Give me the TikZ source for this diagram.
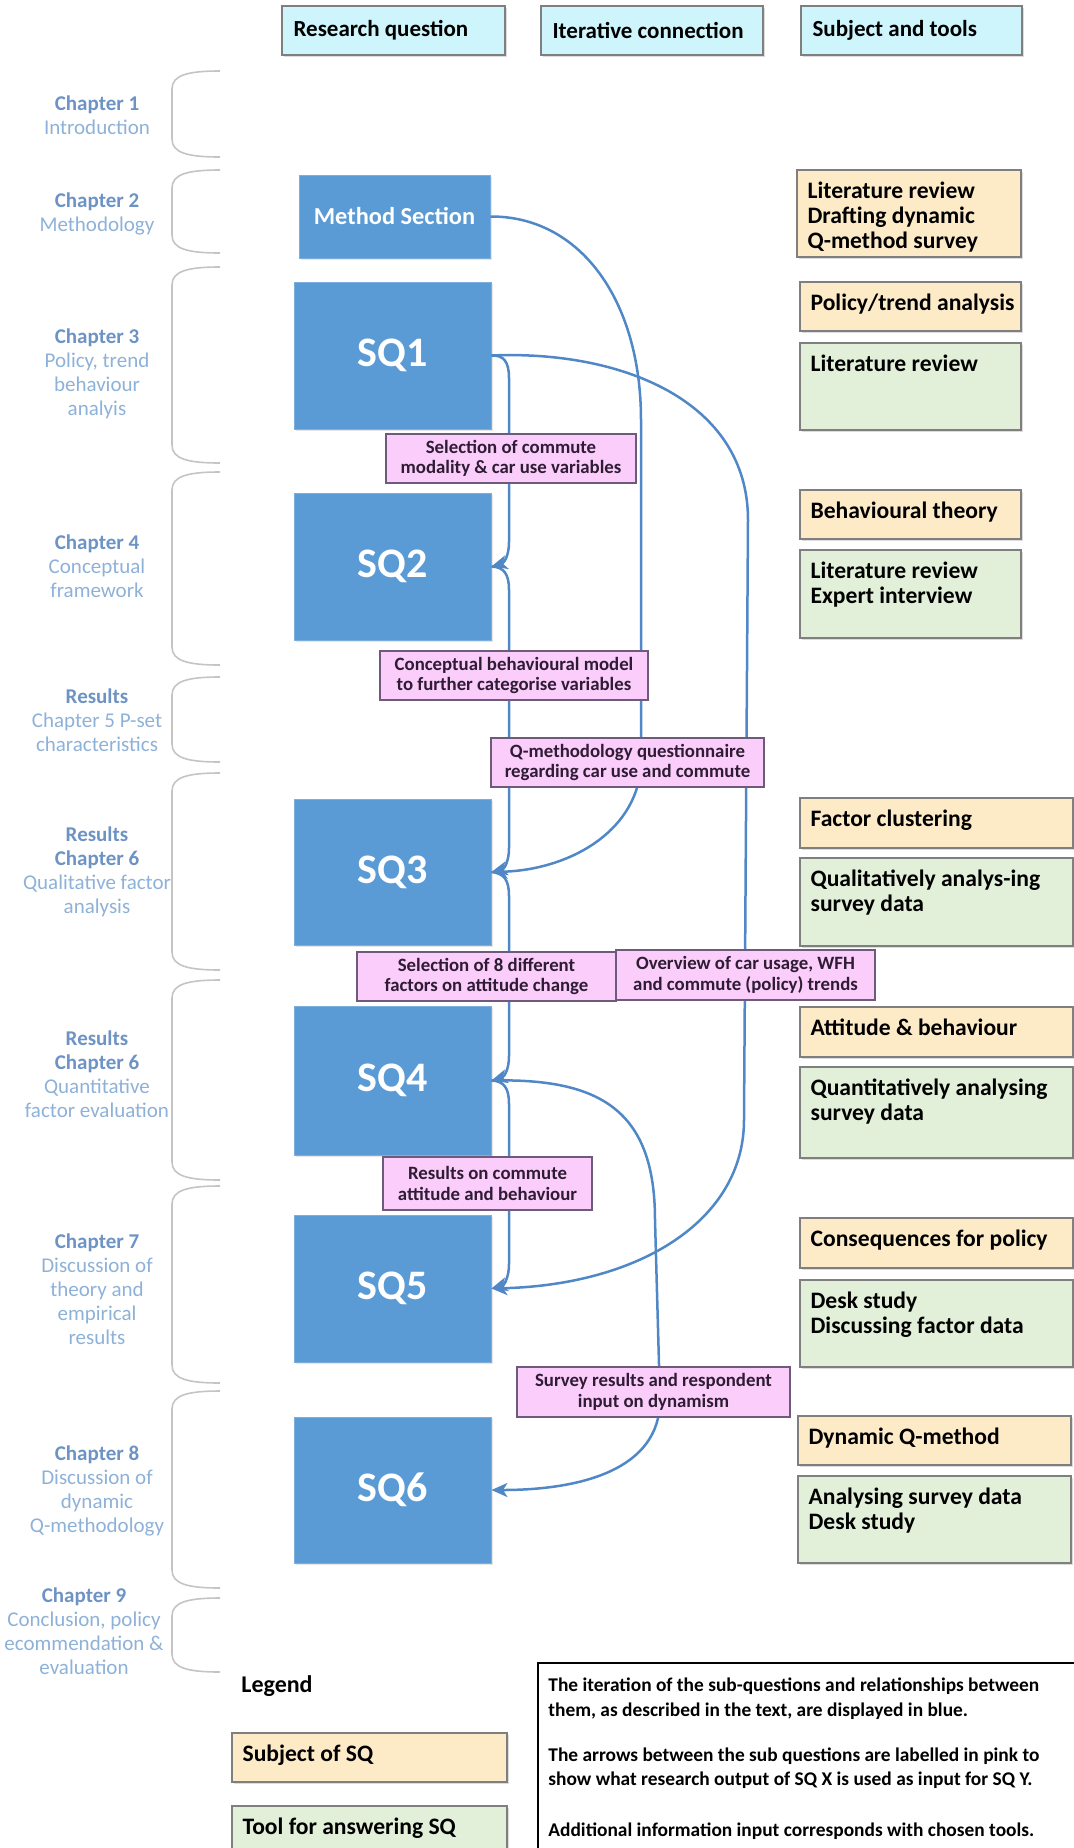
\documentclass[tikz,border=0pt]{standalone}
\usepackage{fontspec}
\setmainfont{Carlito}
\usetikzlibrary{arrows.meta,shadows,fit}

\definecolor{sqblue}{HTML}{5B9BD5}
\definecolor{linkblue}{HTML}{5087C6}
\definecolor{hdrcyan}{HTML}{CDF5FB}
\definecolor{subjtan}{HTML}{FDEBC8}
\definecolor{toolgreen}{HTML}{E2EFD9}
\definecolor{labelpink}{HTML}{FBCDFB}
\definecolor{pinkedge}{HTML}{6E5A7A}
\definecolor{pinkink}{HTML}{2E1C34}
\definecolor{boxedge}{HTML}{7F7F7F}
\definecolor{chapbold}{HTML}{6D93C5}
\definecolor{chaplight}{HTML}{8EB1D8}
\definecolor{bracegray}{HTML}{C4C4C4}

\tikzset{
  outlined/.style={draw=boxedge, line width=0.8pt, inner sep=0pt,
    drop shadow={shadow xshift=0.8pt, shadow yshift=-1.2pt, opacity=0.28}},
  hdrbox/.style={outlined, fill=hdrcyan},
  subjbox/.style={outlined, fill=subjtan},
  toolbox/.style={outlined, fill=toolgreen},
  sqbox/.style={fill=sqblue, draw=sqblue!80!white, line width=0.4pt, inner sep=0pt,
    drop shadow={shadow xshift=0.8pt, shadow yshift=-1.2pt, opacity=0.2}},
  sqtext/.style={font=\fontsize{21}{24}\selectfont\bfseries, text=white, inner sep=0pt},
  pinkbox/.style={draw=pinkedge, fill=labelpink, line width=0.8pt, inner sep=0pt},
  pinktext/.style={font=\fontsize{9.4}{10.2}\selectfont\bfseries, align=center,
    inner sep=0pt, text=pinkink},
  hdrtext/.style={font=\fontsize{11.5}{13}\selectfont\bfseries, anchor=west, inner sep=0pt},
  boxtext/.style={font=\fontsize{11.8}{12.5}\selectfont\bfseries, align=left,
    inner sep=0pt, anchor=north west},
  notetext/.style={font=\fontsize{9.7}{12}\selectfont\bfseries, anchor=west, inner sep=0pt},
  chaplabel/.style={font=\fontsize{10.5}{12}\selectfont, align=center, text=chaplight,
    inner sep=0pt},
  chapbrace/.style={draw=bracegray, line width=0.8pt},
  sqlink/.style={draw=linkblue, line width=1.25pt,
    -{Stealth[length=8pt, width=7pt, inset=2.2pt]}},
}

% rounded bracket on the left, spanning the rows of one chapter
\newcommand{\chapterspan}[2]{%
  \draw[chapbrace] (220,#1) .. controls (188,#1) and (172,{#1+4}) .. (172,{#1+18})
    -- (172,{#2-18}) .. controls (172,{#2-4}) and (188,#2) .. (220,#2);}

% framed box given by its corners, with top-left text
\newcommand{\infobox}[7]{%
  \node[#2, fit={(#3,#4) (#5,#6)}] (#1) {};
  \node[boxtext] (#1-t) at ([xshift=5.5pt,yshift=-6pt]#1.north west) {#7};}

% pink label sitting on a connector
\newcommand{\linklabel}[6]{%
  \node[pinkbox, fit={(#2,#3) (#4,#5)}] (#1) {};
  \node[pinktext] (#1-t) at (#1.center) {#6};}

\begin{document}
\begin{tikzpicture}[x=0.5pt, y=-0.5pt]
\useasboundingbox (0,0) rectangle (1074,1848);
\clip (0,0) rectangle (1074,1848);

% column headers
\node[hdrbox, fit={(282,6) (505,55)}] (hrq) {};
\node[hdrtext] (hrq-t) at ([xshift=6pt]hrq.west) {Research question};
\node[hdrbox, fit={(541,6) (763,55)}] (hic) {};
\node[hdrtext] (hic-t) at ([xshift=6pt]hic.west) {Iterative connection};
\node[hdrbox, fit={(801,6) (1022,55)}] (hst) {};
\node[hdrtext] (hst-t) at ([xshift=6pt]hst.west) {Subject and tools};

% chapter brackets
\chapterspan{71}{157}
\chapterspan{170}{253}
\chapterspan{267}{463}
\chapterspan{472}{665}
\chapterspan{677}{762}
\chapterspan{773}{970}
\chapterspan{980}{1180}
\chapterspan{1186}{1383}
\chapterspan{1391}{1588}
\chapterspan{1598}{1672}

% chapter labels
\node[chaplabel] (c1) at (97,115) {{\color{chapbold}\bfseries Chapter 1}\\Introduction};
\node[chaplabel] (c2) at (97,214) {{\color{chapbold}\bfseries Chapter 2}\\Methodology};
\node[chaplabel] (c3) at (97,374) {{\color{chapbold}\bfseries Chapter 3}\\Policy, trend\\behaviour\\analyis};
\node[chaplabel] (c4) at (97,566) {{\color{chapbold}\bfseries Chapter 4}\\Conceptual\\framework};
\node[chaplabel] (c5) at (97,720) {{\color{chapbold}\bfseries Results}\\Chapter 5 P-set\\characteristics};
\node[chaplabel] (c6a) at (97,872) {{\color{chapbold}\bfseries Results}\\{\color{chapbold}\bfseries Chapter 6}\\Qualitative factor\\analysis};
\node[chaplabel] (c6b) at (97,1074) {{\color{chapbold}\bfseries Results}\\{\color{chapbold}\bfseries Chapter 6}\\Quantitative\\factor evaluation};
\node[chaplabel] (c7) at (97,1289) {{\color{chapbold}\bfseries Chapter 7}\\Discussion of\\theory and\\empirical\\results};
\node[chaplabel] (c8) at (97,1491) {{\color{chapbold}\bfseries Chapter 8}\\Discussion of\\dynamic\\Q-methodology};
\node[chaplabel] (c9) at (84,1631) {{\color{chapbold}\bfseries Chapter 9}\\Conclusion, policy\\ecommendation \&\\evaluation};

% research questions
\node[sqbox, fit={(299,175) (490,258)}] (ms) {};
\node[sqtext, font=\fontsize{12.2}{14}\selectfont\bfseries] (ms-t) at (ms.center) {Method Section};
\node[sqbox, fit={(294,282) (491,429)}] (sq1) {};
\node[sqtext] (sq1-t) at (sq1.center) {SQ1};
\node[sqbox, fit={(294,493) (491,640)}] (sq2) {};
\node[sqtext] (sq2-t) at (sq2.center) {SQ2};
\node[sqbox, fit={(294,799) (491,945)}] (sq3) {};
\node[sqtext] (sq3-t) at (sq3.center) {SQ3};
\node[sqbox, fit={(294,1006) (491,1155)}] (sq4) {};
\node[sqtext] (sq4-t) at (sq4.center) {SQ4};
\node[sqbox, fit={(294,1215) (491,1362)}] (sq5) {};
\node[sqtext] (sq5-t) at (sq5.center) {SQ5};
\node[sqbox, fit={(294,1417) (491,1563)}] (sq6) {};
\node[sqtext] (sq6-t) at (sq6.center) {SQ6};

% subjects and tools
\infobox{s0}{subjbox}{797}{170}{1021}{257}{Literature review\\Drafting dynamic\\Q-method survey}
\infobox{s1}{subjbox}{800}{282}{1021}{331}{Policy/trend analysis}
\infobox{t1}{toolbox}{800}{343}{1021}{430}{Literature review}
\infobox{s2}{subjbox}{800}{490}{1021}{539}{Behavioural theory}
\infobox{t2}{toolbox}{800}{550}{1021}{638}{Literature review\\Expert interview}
\infobox{s3}{subjbox}{800}{798}{1073}{848}{Factor clustering}
\infobox{t3}{toolbox}{800}{858}{1073}{946}{Qualitatively analys-ing\\survey data}
\infobox{s4}{subjbox}{800}{1007}{1073}{1057}{Attitude \& behaviour}
\infobox{t4}{toolbox}{800}{1067}{1073}{1158}{Quantitatively analysing\\survey data}
\infobox{s5}{subjbox}{800}{1218}{1073}{1268}{Consequences for policy}
\infobox{t5}{toolbox}{800}{1280}{1073}{1367}{Desk study\\Discussing factor data}
\infobox{s6}{subjbox}{798}{1416}{1071}{1465}{Dynamic Q-method}
\infobox{t6}{toolbox}{798}{1476}{1071}{1563}{Analysing survey data\\Desk study}

% iterative connections
\draw[sqlink] (sq1.east) .. controls (504,355) and (509,362) .. (509,378)
  -- (509,542) .. controls (509,556) and (504,563) .. (sq2.east);
\draw[sqlink] (sq2.east) .. controls (504,567) and (509,574) .. (509,590)
  -- (509,848) .. controls (509,862) and (504,869) .. (sq3.east);
\draw[sqlink] (sq3.east) .. controls (504,873) and (509,880) .. (509,896)
  -- (509,1056) .. controls (509,1070) and (504,1077) .. (sq4.east);
\draw[sqlink] (sq4.east) .. controls (504,1081) and (509,1088) .. (509,1104)
  -- (509,1264) .. controls (509,1278) and (504,1285) .. (sq5.east);
\draw[sqlink] (ms.east) .. controls (580,216) and (641,300) .. (641,420)
  -- (641,760) .. controls (641,830) and (570,870) .. (sq3.east);
\draw[sqlink] (sq1.east) .. controls (620,350) and (748,400) .. (748,520)
  -- (744,1120) .. controls (744,1220) and (640,1285) .. (sq5.east);
\draw[sqlink] (sq4.east) .. controls (600,1078) and (655,1110) .. (655,1220)
  -- (660,1400) .. controls (660,1470) and (580,1490) .. (sq6.east);

% labels on the connections
\linklabel{l1}{386}{434}{636}{483}{Selection of commute\\modality \& car use variables}
\linklabel{l2}{380}{651}{648}{700}{Conceptual behavioural model\\to further categorise variables}
\linklabel{l3}{491}{738}{764}{787}{Q-methodology questionnaire\\regarding car use and commute}
\linklabel{l4}{357}{952}{616}{1001}{Selection of 8 different\\factors on attitude change}
\linklabel{l5}{616}{950}{875}{1000}{Overview of car usage, WFH\\and commute (policy) trends}
\linklabel{l6}{383}{1157}{592}{1210}{Results on commute\\attitude and behaviour}
\linklabel{l7}{517}{1367}{790}{1417}{Survey results and respondent\\input on dynamism}

% legend
\node[font=\fontsize{12}{14}\selectfont\bfseries, anchor=west, inner sep=0pt] (leg) at (241,1686) {Legend};
\infobox{ls}{subjbox}{232}{1733}{507}{1782}{Subject of SQ}
\infobox{lt}{toolbox}{232}{1806}{507}{1858}{Tool for answering SQ}
\node[draw=black, line width=0.8pt, fill=white, inner sep=0pt, fit={(538,1663) (1100,1900)}] (notes) {};
\node[notetext] (n1) at (548,1686) {The iteration of the sub-questions and relationships between};
\node[notetext] (n2) at (548,1711) {them, as described in the text, are displayed in blue.};
\node[notetext] (n3) at (548,1756) {The arrows between the sub questions are labelled in pink to};
\node[notetext] (n4) at (548,1780) {show what research output of SQ X is used as input for SQ Y.};
\node[notetext] (n5) at (548,1831) {Additional information input corresponds with chosen tools.};
\end{tikzpicture}
\end{document}
